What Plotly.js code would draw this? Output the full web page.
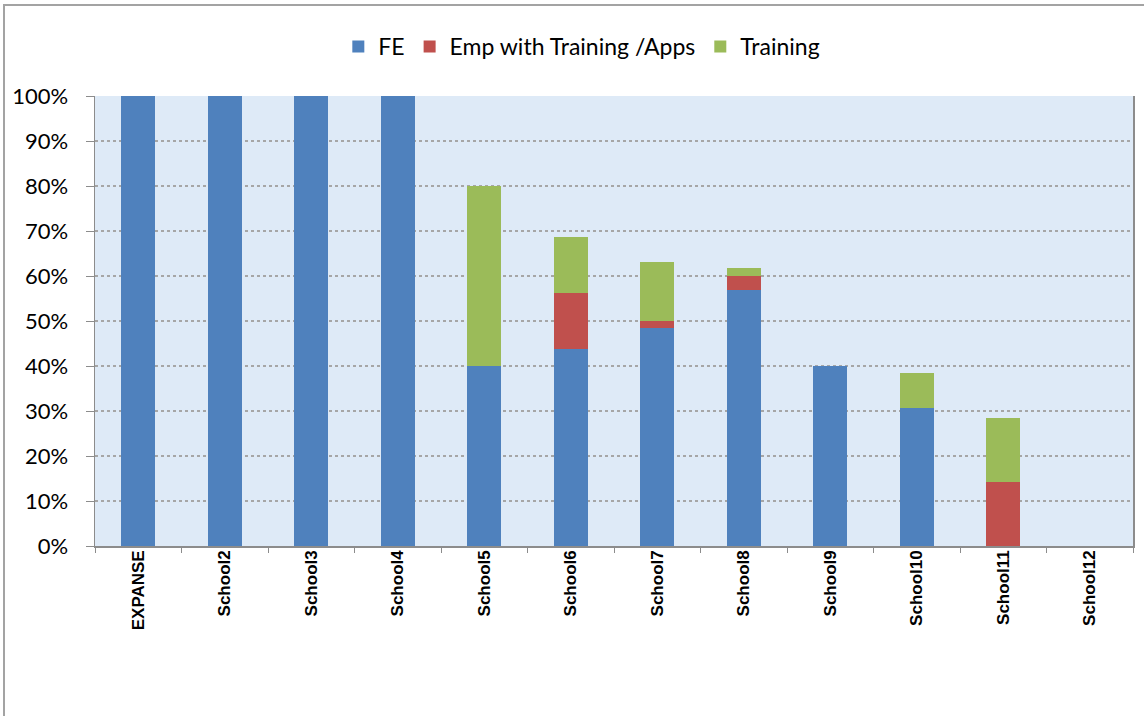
<!DOCTYPE html>
<html>
<head>
<meta charset="utf-8">
<script src="https://cdn.plot.ly/plotly-3.0.1.min.js"></script>
<style>html,body{margin:0;padding:0;background:#fff;}#chart{width:1144px;height:716px;position:relative;}
#frame{position:absolute;left:3px;top:4px;width:1200px;height:800px;border-left:2px solid #a3a3a3;border-top:2px solid #a3a3a3;pointer-events:none;}</style>
</head>
<body>
<div id="chart"></div>
<div id="frame"></div>
<script>
var categories = ["EXPANSE","School2","School3","School4","School5","School6","School7","School8","School9","School10","School11","School12"];
var feValues = [100,100,100,100,40,43.75,48.4,56.8,40,30.7,0,0];
var empValues = [0,0,0,0,0,12.5,1.6,3.2,0,0,14.25,0];
var trainingValues = [0,0,0,0,40,12.5,13.2,1.8,0,7.7,14.25,0];
var yTickVals = [0,10,20,30,40,50,60,70,80,90,100];
var yTickText = ["0%","10%","20%","30%","40%","50%","60%","70%","80%","90%","100%"];

var font = "Lato, 'Open Sans', sans-serif";
function mk(name, vals, color){
  return {type:"bar", name:name, x:categories, y:vals, marker:{color:color, line:{width:0}}, hoverinfo:"x+y"};
}
var data = [
  mk("FE", feValues, "#4f81bd"),
  mk("Emp with Training /Apps", empValues, "#c0504d"),
  mk("Training", trainingValues, "#9bbb59")
];
var layout = {
  width:1144, height:716,
  margin:{l:95, r:11, t:96, b:170},
  barmode:"stack", bargap:0.61,
  paper_bgcolor:"rgba(0,0,0,0)", plot_bgcolor:"#deeaf7",
  font:{family:font, size:22, color:"#000"},
  showlegend:true,
  legend:{orientation:"h", x:0.469, xanchor:"center", y:1.11, yanchor:"middle", font:{family:font, size:23, color:"#000"}, traceorder:"normal", itemwidth:30},
  xaxis:{type:"category", showline:true, linecolor:"#8c8c8c", linewidth:1.5, ticks:"outside", tickson:"boundaries", ticklen:5, tickcolor:"#8c8c8c", tickangle:-90, ticklabelstandoff:-4, tickfont:{family:"'Liberation Sans', Arial, sans-serif", size:17, color:"#000", weight:"bold"}, showgrid:false, zeroline:false, fixedrange:true},
  yaxis:{range:[0,100], tickvals:yTickVals, ticktext:yTickText, showline:true, mirror:true, linecolor:"#8c8c8c", linewidth:1.5, ticks:"outside", ticklen:8, tickcolor:"#8c8c8c", ticklabelstandoff:13, showgrid:true, gridcolor:"#a6a6a6", griddash:"dot", gridwidth:1.5, zeroline:false, tickfont:{family:font, size:22, color:"#000"}, fixedrange:true}
};
Plotly.newPlot("chart", data, layout, {displayModeBar:false, staticPlot:true});
</script>
</body>
</html>
